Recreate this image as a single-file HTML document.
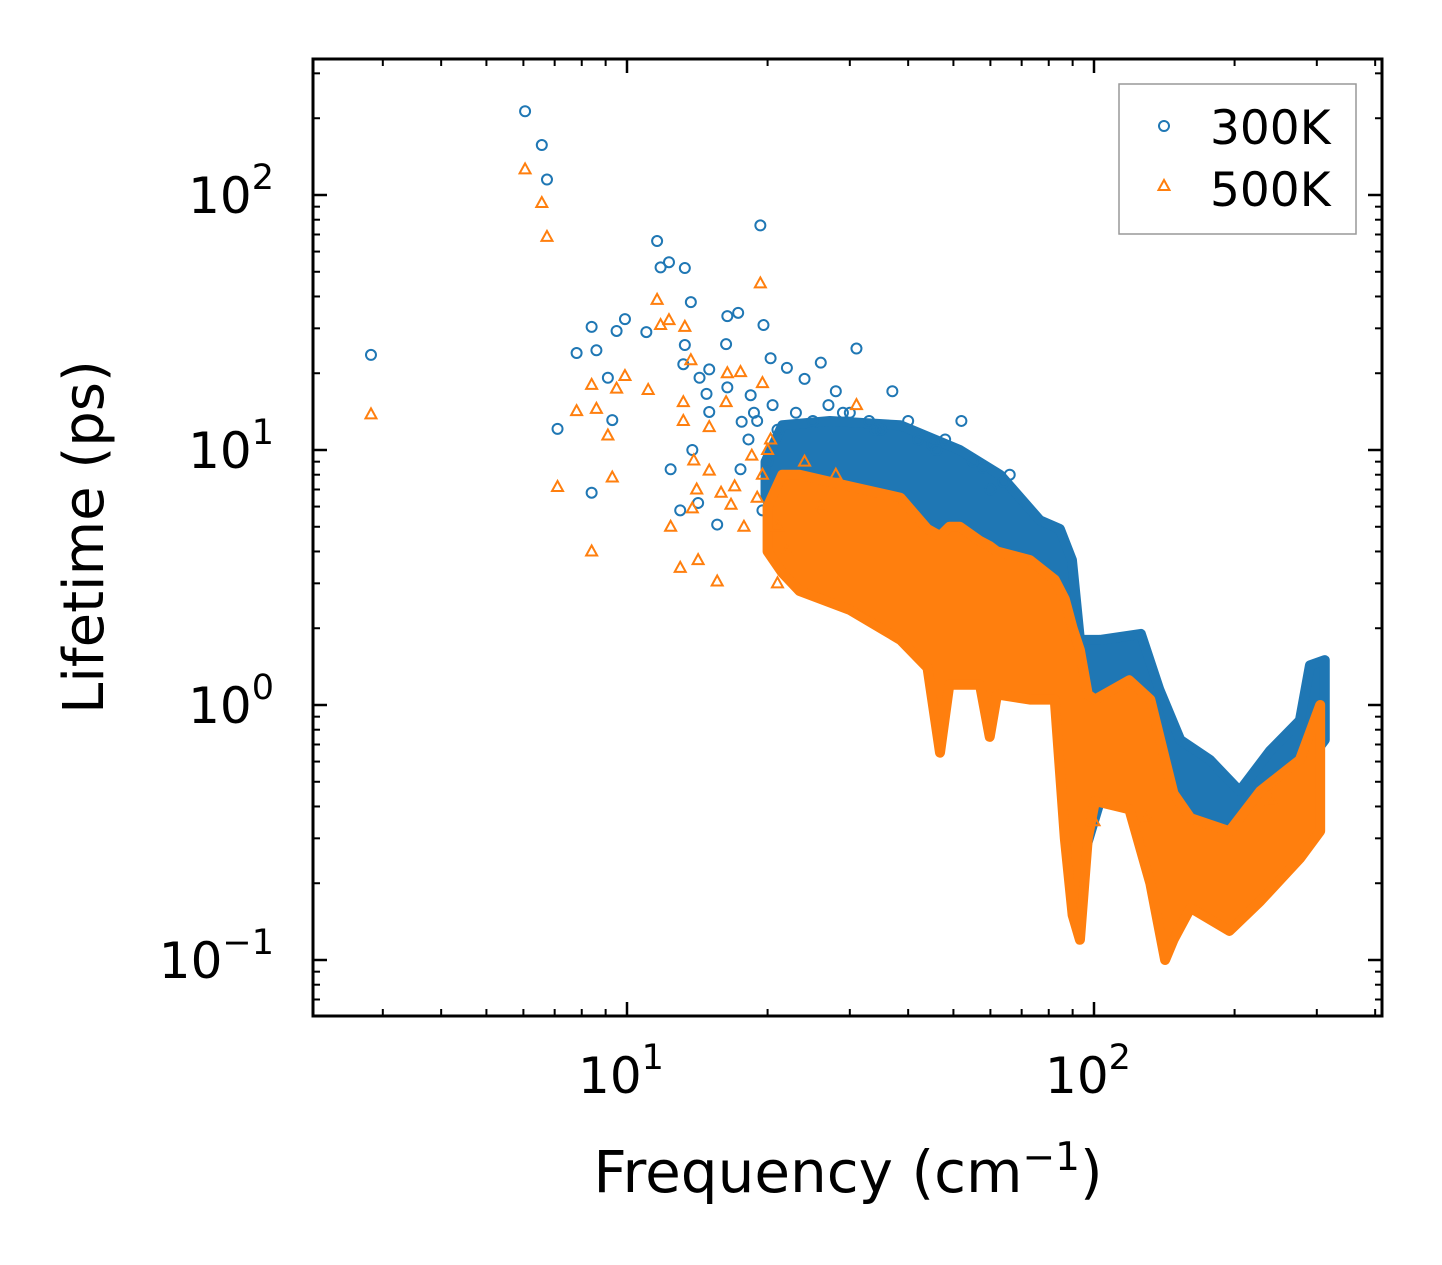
<!DOCTYPE html>
<html><head><meta charset="utf-8"><style>
html,body{margin:0;padding:0;background:#fff;}
svg{display:block;font-family:"DejaVu Sans","Liberation Sans",sans-serif;}
</style></head><body>
<svg id="chart" width="1442" height="1265" viewBox="0 0 1442 1265" xmlns="http://www.w3.org/2000/svg">
<rect width="1442" height="1265" fill="#fff"/>
<g id="marks"></g>
<g id="axes"></g>
</svg>
<script>
// ---- data ----
const blueFreq = [2.83,6.05,6.57,6.74,11.6,11.8,12.3,13.3,19.3,13.7,8.4,9.5,9.9,11.0,7.8,8.6,16.4,17.3,19.6,13.3,16.3,20.3,13.2,9.1,15.0,14.3,14.8,16.4,15.0,9.3,7.1,12.4,13.8,8.4,13.0,15.6,18.4,18.7,17.6,17.5,14.2,22,24,26,27,28,29,31,33,35,37,40,45,48,52,55,60,66,18.2,19.0,20.5,21,23,25,30,34,42,46,58,64,20,19.5];
const blueLife = [23.6,213,157,115,66,52,54.5,51.7,76,38,30.4,29.3,32.6,29,24,24.6,33.5,34.5,30.9,25.8,26,22.9,21.7,19.2,20.7,19.2,16.6,17.6,14.1,13.1,12.1,8.4,10,6.8,5.8,5.1,16.4,14.0,12.9,8.4,6.2,21,19,22,15,17,14,25,13,12,17,13,10.5,11,13,9,7,8,11,13,15,12,14,13,14,12,11,10,8.5,7.5,9,5.8];
const orangeFreq = [2.83,6.05,6.57,6.74,11.6,11.8,12.3,13.3,19.3,8.4,9.9,9.5,11.1,7.8,8.6,9.1,7.1,9.3,8.4,13.7,16.4,17.5,19.5,13.2,16.3,13.2,15.0,13.9,15.0,14.1,12.4,13.0,14.2,15.6,17.0,15.9,16.7,13.8,20,21,22,24,26,28,31,100,130,240,18.5,19.5,20.3,21,17.8,19];
const orangeLife = [13.8,126,93,68.5,38.8,30.9,32.3,30.4,45,18,19.5,17.4,17.2,14.2,14.5,11.4,7.16,7.8,4.0,22.5,20,20.2,18.3,15.4,15.4,13.0,12.3,9.1,8.3,7.0,5.0,3.45,3.7,3.05,7.2,6.8,6.1,5.9,10,3,4,9,6,8,15,0.35,0.36,0.42,9.5,8,11,5,5,6.5];
// dense-band envelopes
const blueBandFreq = [19.8,21.5,27.2,38.5,51.6,62.9,76.6,84.5,89.7,93.3,103,126,138,153,177,205,238,276,290,312];
const blueBandHi = [9,12.5,13,12.5,10,8.0,5.3,4.9,3.7,1.8,1.8,1.9,1.15,0.73,0.61,0.46,0.66,0.87,1.43,1.5];
const blueBandLo = [6.5,5.0,4.4,3.9,3.4,2.6,2.2,1.8,0.61,0.23,0.42,0.51,0.42,0.32,0.30,0.27,0.30,0.42,0.61,0.73];
const orangeBandFreq = [20,21.5,23.4,30.0,38.5,44,46.8,49,51.6,57,59.8,62,72.9,82.4,86.6,90,93.3,97,100.5,119,132,142,148,161,195,227,276,305];
const orangeBandHi = [6,8.0,8.0,7.2,6.5,4.9,4.6,5.0,5.0,4.4,4.2,4.0,3.7,3.1,2.6,2.0,1.64,1.1,1.05,1.25,1.05,0.61,0.45,0.36,0.32,0.46,0.61,1.0];
const orangeBandLo = [4,3.3,2.8,2.36,1.8,1.4,0.65,1.2,1.2,1.2,0.75,1.1,1.05,1.05,0.3,0.15,0.12,0.3,0.42,0.39,0.2,0.1,0.12,0.16,0.13,0.17,0.25,0.32];
const xTickVals = [10,100];
const xTickLabels = ["1","2"];
const yTickVals = [0.1,1,10,100];
const yTickLabels = ["\u22121","0","1","2"];

// ---- axes ----
const L=313,R=1382,T=59,B=1016;
const X = f => 627 + (Math.log10(f)-1)*467;
const Y = v => 450 - (Math.log10(v)-1)*255;
const NS="http://www.w3.org/2000/svg";
const marks=document.getElementById('marks'), axes=document.getElementById('axes');
function mk(tag,attrs,parent){const e=document.createElementNS(NS,tag);for(const k in attrs)e.setAttribute(k,attrs[k]);parent.appendChild(e);return e;}
const BLUE="#1f77b4", ORANGE="#ff7f0e";

function band(fs,hi,lo,color,name){
  let pts=fs.map((f,i)=>X(f)+","+Y(hi[i]));
  for(let i=fs.length-1;i>=0;i--)pts.push(X(fs[i])+","+Y(lo[i]));
  const p=mk('polygon',{points:pts.join(' '),fill:color,stroke:color,'stroke-width':10,'stroke-linejoin':'round'},marks);
  
  
}
function circles(fs,vs){
  fs.forEach((f,i)=>{
    const c=mk('circle',{cx:X(f),cy:Y(vs[i]),r:5,fill:'none',stroke:BLUE,'stroke-width':2},marks);
    
    
  });
}
function tris(fs,vs){
  fs.forEach((f,i)=>{
    const x=X(f),y=Y(vs[i]);
    const t=mk('polygon',{points:`${x},${y-6} ${x-5.5},${y+4} ${x+5.5},${y+4}`,fill:'none',stroke:ORANGE,'stroke-width':2},marks);
    
    
  });
}
band(blueBandFreq,blueBandHi,blueBandLo,BLUE,'band-300k');
circles(blueFreq,blueLife);
band(orangeBandFreq,orangeBandHi,orangeBandLo,ORANGE,'band-500k');
tris(orangeFreq,orangeLife);

// frame
const fr=mk('rect',{x:L,y:T,width:R-L,height:B-T,fill:'none',stroke:'#000','stroke-width':3},axes);


for(let d=0;d<=2;d++){for(let m=1;m<=9;m++){const f=m*Math.pow(10,d);const x=X(f);if(x<L+1||x>R-1)continue;
  const len=m===1?14:7, w=m===1?2.5:2;
  mk('line',{x1:x,x2:x,y1:B,y2:B-len,stroke:'#000','stroke-width':w},axes);
  mk('line',{x1:x,x2:x,y1:T,y2:T+len,stroke:'#000','stroke-width':w},axes);}}
for(let d=-2;d<=2;d++){for(let m=1;m<=9;m++){const v=m*Math.pow(10,d);const y=Y(v);if(y<T+1||y>B-1)continue;
  const len=m===1?14:7, w=m===1?2.5:2;
  mk('line',{x1:L,x2:L+len,y1:y,y2:y,stroke:'#000','stroke-width':w},axes);
  mk('line',{x1:R,x2:R-len,y1:y,y2:y,stroke:'#000','stroke-width':w},axes);}}
xTickVals.forEach((v,i)=>{
  const t=mk('text',{x:X(v)-6,y:1093,'font-size':50,'text-anchor':'middle'},axes);
  t.innerHTML='10<tspan dy="-24" font-size="35">'+xTickLabels[i]+'</tspan>';
  
  
});
yTickVals.forEach((v,i)=>{
  const t=mk('text',{x:274,y:Y(v)+18,'font-size':50,'text-anchor':'end'},axes);
  t.innerHTML='10<tspan dy="-24" font-size="35">'+yTickLabels[i]+'</tspan>';
  
  
});
const xl=mk('text',{x:848,y:1192,'font-size':58,'text-anchor':'middle'},axes);
xl.innerHTML='Frequency (cm<tspan dy="-22" font-size="39">\u22121</tspan><tspan dy="22">)</tspan>';


const yl=mk('text',{x:0,y:0,'font-size':56,'text-anchor':'middle',transform:'translate(103,537) rotate(-90)'},axes);
yl.textContent='Lifetime (ps)';


// legend
const lg=mk('g',{},axes);


mk('rect',{x:1119,y:84,width:237,height:150,fill:'#fff',stroke:'#999','stroke-width':1.5},lg);
mk('circle',{cx:1164,cy:126,r:5,fill:'none',stroke:BLUE,'stroke-width':2},lg);
mk('polygon',{points:'1164,180 1158.5,190 1169.5,190',fill:'none',stroke:ORANGE,'stroke-width':2},lg);
const t1=mk('text',{x:1210,y:144,'font-size':47},lg);t1.textContent='300K';


const t2=mk('text',{x:1210,y:206,'font-size':47},lg);t2.textContent='500K';


</script>
</body></html>
